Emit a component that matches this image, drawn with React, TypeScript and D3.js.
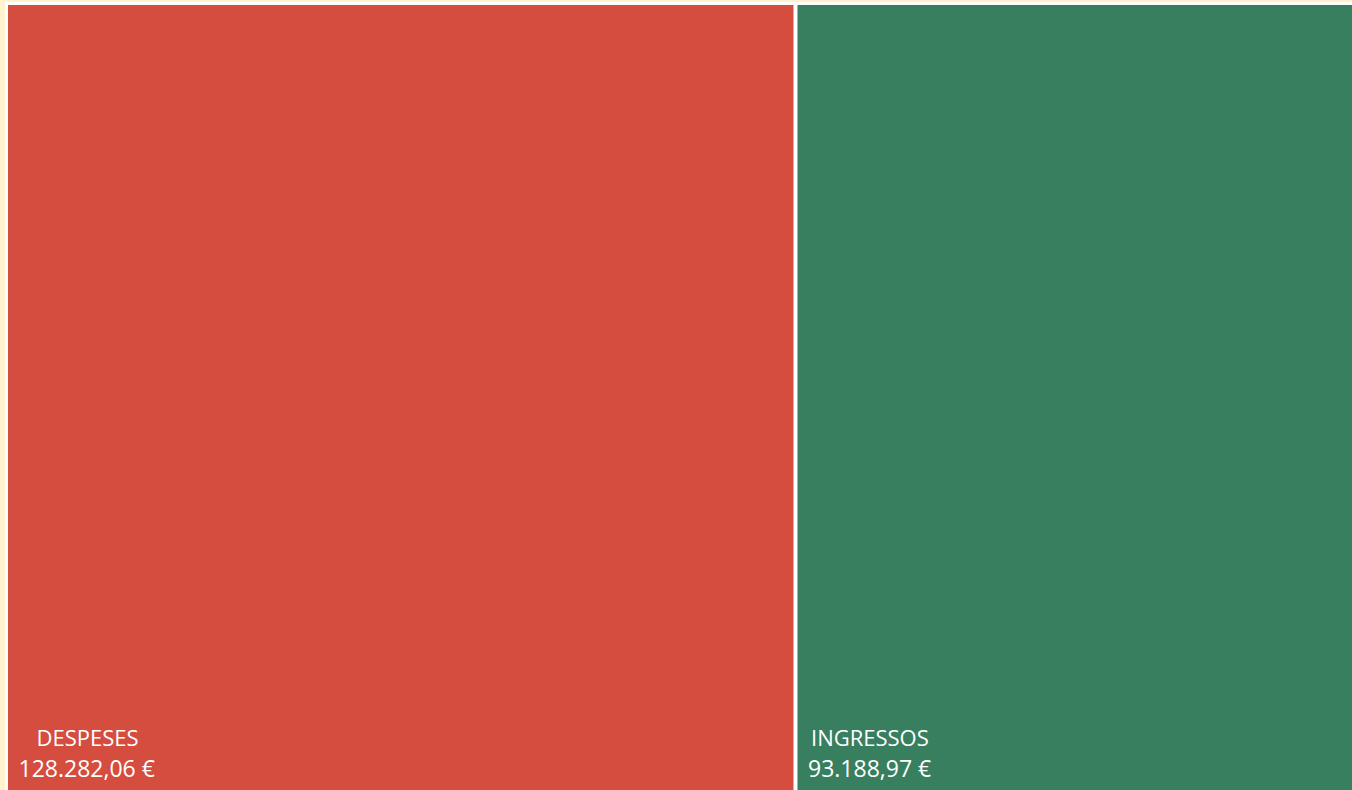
import * as d3 from "d3";
import React from "react";

const WIDTH = 1352;
const HEIGHT = 790;

const categories = ["DESPESES", "INGRESSOS"];
const amounts = [128282.06, 93188.97];
const colors = ["#d44d3f", "#377f5f"];
const labelIndent = [30, 15];

type Leaf = { name: string; value: number; color: string; indent: number };

const euro = (v: number) =>
    d3
        .format(",.2f")(v)
        .replace(/,/g, "#")
        .replace(".", ",")
        .replace(/#/g, ".") + " €";

const App: React.FC = () => {
    const leaves: Leaf[] = categories.map((c, i) => ({
        name: c,
        value: amounts[i],
        color: colors[i],
        indent: labelIndent[i],
    }));

    const root = d3
        .hierarchy<any>({ children: leaves })
        .sum((d: any) => d.value || 0);

    // the plot runs past the right and bottom edge of the window
    d3.treemap<any>().tile(d3.treemapDice).size([1362, 800]).paddingInner(1)(root);
    const nodes = root.leaves() as d3.HierarchyRectangularNode<Leaf>[];

    return (
        <svg
            width={WIDTH}
            height={HEIGHT}
            style={{ position: "absolute", left: 0, top: 0, display: "block" }}
        >
            <rect width={WIDTH} height={HEIGHT} fill="#fff2cc" />
            <g transform="translate(6.5,3.5)">
                {nodes.map((n) => (
                    <g key={n.data.name}>
                        <rect
                            x={n.x0}
                            y={n.y0}
                            width={n.x1 - n.x0}
                            height={n.y1 - n.y0}
                            fill={n.data.color}
                            stroke="#ffffff"
                            strokeWidth={3}
                        />
                        <text
                            x={n.x0 + n.data.indent}
                            y={742.5}
                            fill="#ffffff"
                            fontFamily="Open Sans, sans-serif"
                            fontSize={22}
                        >
                            {n.data.name}
                        </text>
                        <text
                            x={n.x0 + 12}
                            y={773.5}
                            fill="#ffffff"
                            fontFamily="Open Sans, sans-serif"
                            fontSize={23}
                        >
                            {euro(n.data.value)}
                        </text>
                    </g>
                ))}
            </g>
        </svg>
    );
};

export default App;
